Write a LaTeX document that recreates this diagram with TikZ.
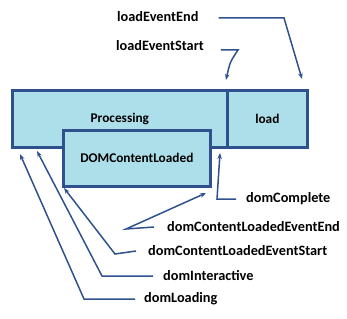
\documentclass[tikz,border=0pt]{standalone}
\usepackage{fontspec}
\setmainfont{Carlito}
\usetikzlibrary{arrows.meta}
\definecolor{boxfill}{HTML}{ADDFEA}
\definecolor{boxline}{HTML}{2F528F}
\begin{document}
\begin{tikzpicture}[x=1pt,y=-1pt,
  box/.style={draw=boxline,fill=boxfill,line width=2.7pt,anchor=north west,inner sep=0pt,font=\bfseries\fontsize{13.3}{15}\selectfont},
  lbl/.style={inner sep=0pt,font=\bfseries\fontsize{14.3}{16}\selectfont},
  conn/.style={draw=boxline,line width=1.5pt,-{Stealth[length=6pt,width=4.5pt]}}]
\useasboundingbox (0,0) rectangle (347,318);
% boxes
\node[box,minimum width=215pt,minimum height=57pt] (proc) at (11,89) {Processing};
\node[box,minimum width=80pt,minimum height=57pt] (load) at (226,89) {load};
\node[box,minimum width=147pt,minimum height=56pt] (dcl) at (62,129) {DOMContentLoaded};
% labels
\node[lbl,anchor=west] (lee) at (117,17) {loadEventEnd};
\node[lbl,anchor=west] (les) at (116,46) {loadEventStart};
\node[lbl,anchor=west] (dc) at (246,199) {domComplete};
\node[lbl,anchor=west] (dclee) at (167,227) {domContentLoadedEventEnd};
\node[lbl,anchor=west] (dcles) at (148,251) {domContentLoadedEventStart};
\node[lbl,anchor=west] (di) at (163,276) {domInteractive};
\node[lbl,anchor=west] (dl) at (144,299) {domLoading};
% tips
\coordinate (tLee) at (302,79);
\coordinate (tLes) at (226,80);
\coordinate (tDc) at (220,153);
\coordinate (tDclee) at (206,193);
\coordinate (tDcles) at (64,188);
\coordinate (tDi) at (37,151);
\coordinate (tDl) at (20,154);
% connectors
\draw[conn] ([xshift=20pt,yshift=-1pt]lee.east) -- (284,18) -- (tLee);
\draw[conn] ([xshift=17pt,yshift=-4pt]les.east) -- (238,50) .. controls (230,62) .. (tLes);
\draw[conn] ([xshift=-10pt]dc.west) -- (217,199) -- (tDc);
\draw[conn] ([xshift=-13pt]dclee.west) -- (126,229) -- (tDclee);
\draw[conn] ([xshift=-12pt]dcles.west) -- (115,254) -- (tDcles);
\draw[conn] ([xshift=-10pt]di.west) -- (102,276) -- (tDi);
\draw[conn] ([xshift=-9pt]dl.west) -- (84,299) -- (tDl);
\end{tikzpicture}
\end{document}
